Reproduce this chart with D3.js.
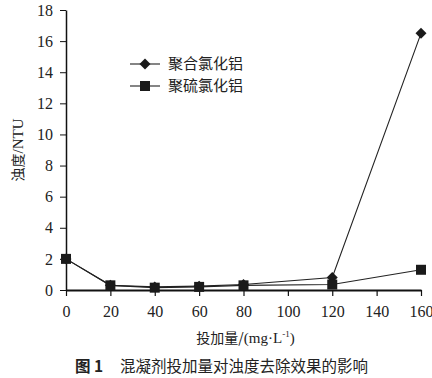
<!DOCTYPE html>
<html>
<head>
<meta charset="utf-8">
<script src="https://cdn.jsdelivr.net/npm/d3@7"></script>
<style>
  body { margin: 0; background: #fff; }
  svg { display: block; }
</style>
</head>
<body>
<div id="chart"></div>
<script>
const doses = [0, 20, 40, 60, 80, 120, 160];
const pacValues = [2.0, 0.3, 0.2, 0.25, 0.35, 0.8, 16.5];
const pasValues = [2.0, 0.3, 0.15, 0.2, 0.3, 0.35, 1.3];
const seriesNames = ["聚合氯化铝", "聚硫氯化铝"];
const xTicks = [0, 20, 40, 60, 80, 100, 120, 140, 160];
const yTicks = [0, 2, 4, 6, 8, 10, 12, 14, 16, 18];

const size = { width: 432, height: 378 };
const margin = { top: 10, right: 11, bottom: 88, left: 66 };
const serif = "Liberation Serif, Times New Roman, serif";
const cjk = "Noto Sans CJK SC, sans-serif";

const svg = d3.select("#chart").append("svg")
  .attr("width", size.width)
  .attr("height", size.height);

const x = d3.scaleLinear()
  .domain([0, 160])
  .range([margin.left, size.width - margin.right]);

const y = d3.scaleLinear()
  .domain([0, 18])
  .range([size.height - margin.bottom, margin.top]);

// y axis
const yAxis = svg.append("g")
  .attr("transform", `translate(${margin.left},0)`)
  .call(d3.axisLeft(y).tickValues(yTicks).tickSize(6).tickSizeOuter(0).tickPadding(7))
  .attr("font-family", serif)
  .attr("font-size", 16);
yAxis.select(".domain").attr("stroke-width", 1.5).attr("stroke", "#111");
yAxis.selectAll(".tick line").attr("stroke", "#111");
yAxis.selectAll("text").attr("fill", "#222");

// x axis
const xAxis = svg.append("g")
  .attr("transform", `translate(0,${y(0)})`)
  .call(d3.axisBottom(x).tickValues(xTicks).tickSize(6).tickSizeOuter(0).tickPadding(10))
  .attr("font-family", serif)
  .attr("font-size", 16);
xAxis.select(".domain").attr("stroke-width", 2.2).attr("stroke", "#111");
xAxis.selectAll(".tick line").attr("stroke", "#111").attr("stroke-width", 1.2);
xAxis.selectAll("text").attr("fill", "#222");

const line = d3.line()
  .x((d) => x(d[0]))
  .y((d) => y(d[1]));

const series = [
  { name: seriesNames[0], values: pacValues, symbol: d3.symbolSquare, size: 60, rotate: 45 },
  { name: seriesNames[1], values: pasValues, symbol: d3.symbolSquare, size: 100, rotate: 0 },
];

series.forEach((s) => {
  const pts = doses.map((d, i) => [d, s.values[i]]);
  svg.append("path")
    .datum(pts)
    .attr("fill", "none")
    .attr("stroke", "#222")
    .attr("stroke-width", 1.1)
    .attr("d", line);
});

// markers drawn after both lines
series.forEach((s) => {
  const pts = doses.map((d, i) => [d, s.values[i]]);
  svg.append("g")
    .selectAll("path")
    .data(pts)
    .join("path")
    .attr("transform", (d) => `translate(${x(d[0])},${y(d[1])}) rotate(${s.rotate})`)
    .attr("d", d3.symbol().type(s.symbol).size(s.size))
    .attr("fill", "#1a1a1a");
});

// legend
const legend = svg.append("g").attr("transform", "translate(130,64)");
series.forEach((s, i) => {
  const g = legend.append("g").attr("transform", `translate(0,${i * 22})`);
  g.append("line")
    .attr("x1", 0).attr("x2", 30)
    .attr("stroke", "#222").attr("stroke-width", 1.1);
  g.append("path")
    .attr("transform", `translate(15,0) rotate(${s.rotate})`)
    .attr("d", d3.symbol().type(s.symbol).size(s.size))
    .attr("fill", "#1a1a1a");
  g.append("text")
    .attr("x", 38)
    .attr("dy", "0.36em")
    .attr("font-family", cjk)
    .attr("font-size", 15)
    .attr("fill", "#222")
    .text(s.name);
});

// y axis title
const yt = svg.append("text")
  .attr("transform", `translate(18,${(y(0) + y(18)) / 2}) rotate(-90)`)
  .attr("text-anchor", "middle")
  .attr("dy", "0.36em")
  .attr("font-family", cjk)
  .attr("font-size", 14)
  .attr("fill", "#222");
yt.append("tspan").text("浊度");
yt.append("tspan").attr("font-family", serif).attr("font-size", 15).text("/NTU");

// x axis title
const xt = svg.append("text")
  .attr("x", (x(0) + x(160)) / 2 + 2)
  .attr("y", 343)
  .attr("text-anchor", "middle")
  .attr("font-family", cjk)
  .attr("font-size", 14)
  .attr("fill", "#222");
xt.append("tspan").text("投加量/");
xt.append("tspan").attr("font-family", serif).attr("font-size", 15).text("(mg·L");
xt.append("tspan").attr("font-family", serif).attr("font-size", 9).attr("dy", -6).text("-1");
xt.append("tspan").attr("font-family", serif).attr("font-size", 15).attr("dy", 6).text(")");

// caption
const cap = svg.append("text")
  .attr("x", 75)
  .attr("y", 372)
  .attr("font-family", cjk)
  .attr("font-size", 15.5)
  .attr("fill", "#222");
cap.append("tspan").attr("font-weight", "bold").text("图 1");
cap.append("tspan").attr("x", 120).text("混凝剂投加量对浊度去除效果的影响");
</script>
</body>
</html>
